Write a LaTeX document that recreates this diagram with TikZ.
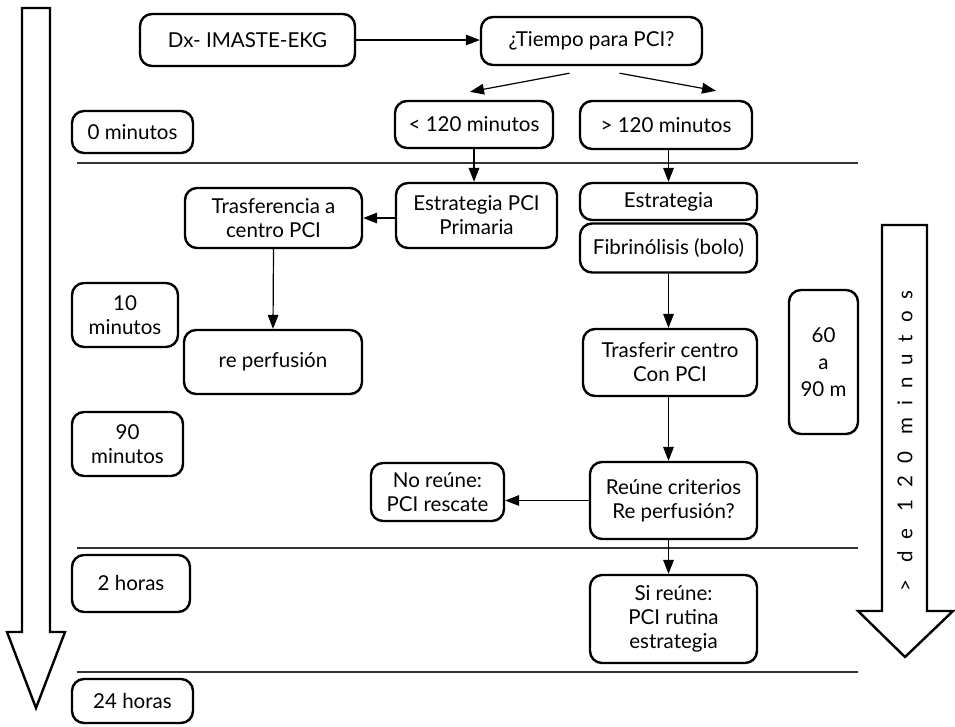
\documentclass[tikz,border=0pt]{standalone}
\usepackage{fontspec}
\setmainfont{Lato}
\usetikzlibrary{arrows.meta,calc}
\newcommand\boxfont{\fontsize{15.4}{18}\selectfont}
\begin{document}
\begin{tikzpicture}[x=0.75pt,y=-0.75pt,
  box/.style={draw, line width=1.8pt, rounded corners=9pt, align=center,
    inner sep=0pt, font=\boxfont},
  sz/.style 2 args={minimum width=#1*0.75pt, minimum height=#2*0.75pt},
  arr/.style={-{Triangle[length=10.5pt,width=8pt]}, line width=0.9pt},
  sep/.style={line width=0.9pt, black!80},
  bigarrow/.style={draw, line width=1.8pt, fill=white, line join=miter}]
\useasboundingbox (0,0) rectangle (955,726);

% time-line arrows
\draw[bigarrow] (22,8) -- (50,8) -- (50,632) -- (65,632) -- (36,708)
  -- (7,632) -- (22,632) -- cycle;
\draw[bigarrow] (882,225) -- (927,225) -- (927,611) -- (953,611) -- (905,657)
  -- (858,611) -- (882,611) -- cycle;
\node[rotate=90, font=\boxfont\addfontfeature{LetterSpace=58}] (mas120) at (905,441)
  {> de 120 minutos};

% phase separators
\draw[sep] (77,163) -- (858,163);
\draw[sep] (77,548) -- (858,548);
\draw[sep] (77,672) -- (858,672);

% time labels
\node[box, sz={121}{42}] (t0) at (132.5,132) {0 minutos};
\node[box, sz={106}{64}] (t10) at (125,315) {10\\minutos};
\node[box, sz={111}{64}] (t90) at (127.5,444) {90\\minutos};
\node[box, sz={118}{57}] (t2h) at (131,583.5) {2 horas};
\node[box, sz={121}{44}] (t24h) at (132.5,701) {24 horas};
\node[box, sz={69}{144}, font=\fontsize{15.4}{20.5}\selectfont] (m6090) at (823.5,362) {60\\a\\90 m};

% flow
\node[box, sz={215}{52}] (dx) at (247.5,40) {Dx- IMASTE-EKG};
\node[box, sz={221}{48}] (tiempo) at (591.5,41) {¿Tiempo para PCI?};
\node[box, sz={158}{47}] (lt) at (474,124.5) {< 120 minutos};
\node[box, sz={172}{48}] (gt) at (666,125) {> 120 minutos};
\node[box, sz={161}{65}] (epp) at (476.5,215.5) {Estrategia PCI\\Primaria};
\node[box, sz={177}{60}] (tras) at (273.5,218) {Trasferencia a\\centro PCI};
\node[box, sz={178}{64}] (reperf) at (273,362) {re perfusión};
\node[box, sz={177}{37}] (estr) at (668.5,201.5) {Estrategia};
\node[box, sz={177}{49}] (fib) at (668.5,248) {Fibrinólisis (bolo)};
\node[box, sz={174}{67}] (trasf) at (670,362.5) {Trasferir centro\\Con PCI};
\node[box, sz={167}{77}] (reune) at (673.5,500.5) {Reúne criterios\\Re perfusión?};
\node[box, sz={133}{58}] (noreune) at (437.5,492) {No reúne:\\PCI rescate};
\node[box, sz={167}{88}] (sireune) at (673.5,619) {Si reúne:\\PCI rutina\\estrategia};

% connectors
\draw[arr] (dx.east) -- (dx.east -| tiempo.west);
\draw[arr] ($(tiempo.south)+(-22,7)$) -- ($(lt.north)+(-4,-8)$);
\draw[arr] ($(tiempo.south)+(28,7)$) -- ($(gt.north)+(50,-9)$);
\draw[arr] (lt.south) -- (lt.south |- epp.north);
\draw[arr] (estr.north |- gt.south) -- (estr.north);
\draw[arr] (epp.west |- tras.east) -- (tras.east);
\draw[arr] (tras.south) -- (reperf.north);
\draw[arr] (fib.south) -- (fib.south |- trasf.north);
\draw[arr] (trasf.south -| fib.south) -- (reune.north -| fib.south);
\draw[arr] (reune.west) -- (reune.west -| noreune.east);
\draw[arr] (reune.south -| fib.south) -- (sireune.north -| fib.south);
\end{tikzpicture}
\end{document}
